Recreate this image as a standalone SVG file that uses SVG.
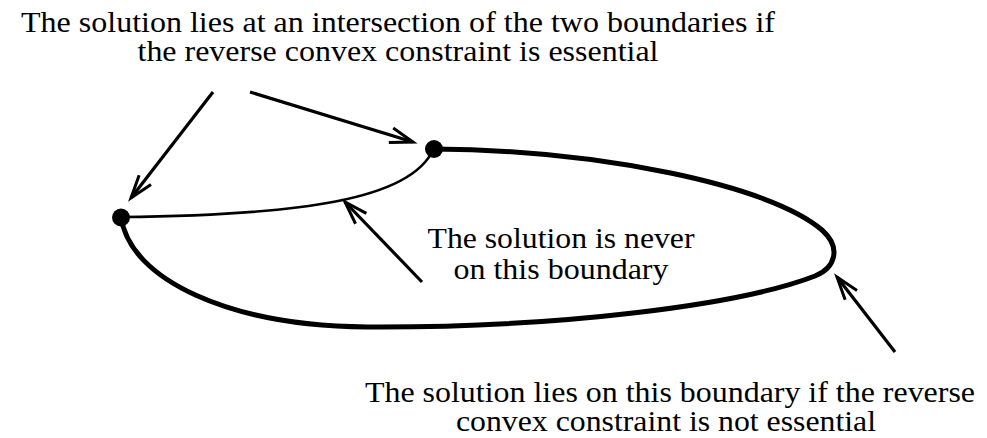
<svg xmlns="http://www.w3.org/2000/svg" width="987" height="438" viewBox="0 0 987 438">
  <style>
    .t { font-family: "Liberation Serif", "Times New Roman", serif; font-size: 29.5px; fill: #000; text-anchor: middle; }
    .arrow { fill: none; stroke: #000; stroke-width: 3.2; marker-end: url(#head); }
    .thin { fill: none; stroke: #000; stroke-width: 2.6; }
    .thick { fill: none; stroke: #000; stroke-width: 5; stroke-linecap: round; }
  </style>
  <defs>
    <marker id="head" markerUnits="userSpaceOnUse" markerWidth="40" markerHeight="40" refX="0" refY="0" orient="auto" overflow="visible">
      <path d="M-23,-7.5 L0,0 L-23,7.5" fill="none" stroke="#000" stroke-width="3" stroke-linejoin="miter"/>
    </marker>
  </defs>
  <rect width="987" height="438" fill="#fff"/>

  <g id="boundary-reverse-convex">
    <path class="thin" d="M121,217 C300,215 410,200 433,150"/>
  </g>
  <g id="boundary-convex">
    <path class="thick" d="M433,149 C600,150 770,185 822,230 C842,248 835,268 815,276 C740,305 560,328 367,327 C230,326 130,280 121,217"/>
  </g>
  <g id="point-left">
    <circle cx="121" cy="217.5" r="9" fill="#000"/>
  </g>
  <g id="point-right">
    <circle cx="434" cy="149" r="9" fill="#000"/>
  </g>

  <g id="label-intersection">
    <text class="t" x="398" y="32" textLength="754" lengthAdjust="spacingAndGlyphs">The solution lies at an intersection of the two boundaries if</text>
    <text class="t" x="398" y="61" textLength="521" lengthAdjust="spacingAndGlyphs">the reverse convex constraint is essential</text>
  </g>
  <g id="label-never">
    <text class="t" x="561" y="248" textLength="267" lengthAdjust="spacingAndGlyphs">The solution is never</text>
    <text class="t" x="561" y="279" textLength="215" lengthAdjust="spacingAndGlyphs">on this boundary</text>
  </g>
  <g id="label-not-essential">
    <text class="t" x="670" y="402" textLength="610" lengthAdjust="spacingAndGlyphs">The solution lies on this boundary if the reverse</text>
    <text class="t" x="666" y="431" textLength="420" lengthAdjust="spacingAndGlyphs">convex constraint is not essential</text>
  </g>

  <g id="connectors">
    <line class="arrow" x1="213" y1="92" x2="131" y2="198"/>
    <line class="arrow" x1="250" y1="92" x2="413" y2="142"/>
    <line class="arrow" x1="422" y1="282" x2="345" y2="202"/>
    <line class="arrow" x1="895" y1="352" x2="837" y2="277"/>
  </g>
</svg>
